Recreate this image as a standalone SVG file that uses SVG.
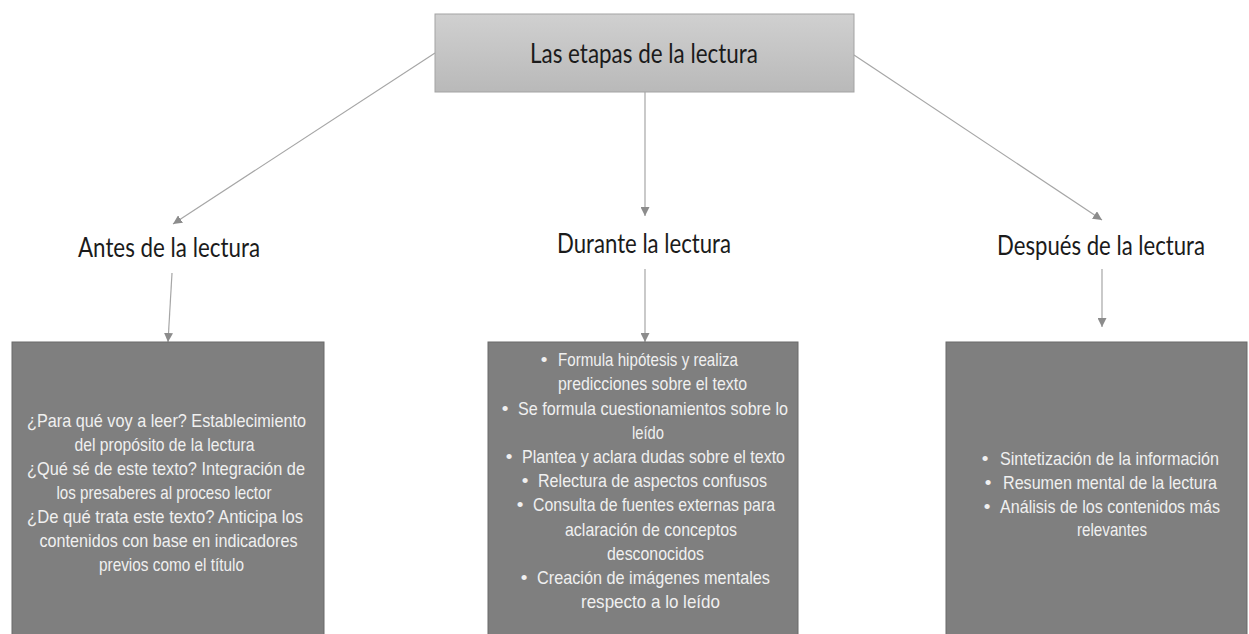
<svg xmlns="http://www.w3.org/2000/svg" width="1249" height="634" viewBox="0 0 1249 634">
<defs>
<linearGradient id="gTop" x1="0" y1="0" x2="0" y2="1">
<stop offset="0" stop-color="#d0d0d0"/>
<stop offset="1" stop-color="#b9b9b9"/>
</linearGradient>
<marker id="arr" viewBox="0 0 10 10" refX="10" refY="5" markerWidth="9" markerHeight="9" markerUnits="userSpaceOnUse" orient="auto">
<path d="M0,0 L10,5 L0,10 z" fill="#8c8c8c"/>
</marker>
<style>
.conn{stroke:#a6a6a6;stroke-width:1.2;fill:none;marker-end:url(#arr)}
.head{font-family:Lato,"Open Sans","Liberation Sans",sans-serif;font-size:26px;fill:#1b1b1b;text-anchor:middle}
.box{fill:#7f7f7f;stroke:#6b6b6b;stroke-width:1}
.bt{font-family:"Liberation Sans",Arial,sans-serif;font-size:19px;fill:#f0f0f0;text-anchor:middle}
</style>
</defs>
<rect width="1249" height="634" fill="#ffffff"/>
<g id="connectors">
<line class="conn" x1="435" y1="53" x2="173" y2="224"/>
<line class="conn" x1="645" y1="92" x2="645" y2="216"/>
<line class="conn" x1="854" y1="55" x2="1102" y2="220"/>
<line class="conn" x1="172" y1="273" x2="168" y2="342"/>
<line class="conn" x1="645" y1="269" x2="645" y2="342"/>
<line class="conn" x1="1102" y1="269" x2="1102" y2="327"/>
</g>
<g id="root">
<rect x="435" y="14" width="419" height="78" fill="url(#gTop)" stroke="#a3a3a3" stroke-width="1"/>
<text class="head" x="644" y="63" font-size="24" textLength="228" lengthAdjust="spacingAndGlyphs">Las etapas de la lectura</text>
</g>
<g id="antes-label">
<text class="head" x="169" y="257" font-size="25.5" textLength="182" lengthAdjust="spacingAndGlyphs">Antes de la lectura</text>
</g>
<g id="durante-label">
<text class="head" x="644" y="253" font-size="25.5" textLength="174" lengthAdjust="spacingAndGlyphs">Durante la lectura</text>
</g>
<g id="despues-label">
<text class="head" x="1101" y="255" font-size="25.5" textLength="208" lengthAdjust="spacingAndGlyphs">Después de la lectura</text>
</g>
<g id="antes-box">
<rect class="box" x="12" y="342" width="312" height="293"/>
<text class="bt" x="166.5" y="427" textLength="279" lengthAdjust="spacingAndGlyphs">¿Para qué voy a leer? Establecimiento</text>
<text class="bt" x="164.5" y="451" textLength="180" lengthAdjust="spacingAndGlyphs">del propósito de la lectura</text>
<text class="bt" x="166" y="475" textLength="278" lengthAdjust="spacingAndGlyphs">¿Qué sé de este texto? Integración de</text>
<text class="bt" x="164" y="499" textLength="215" lengthAdjust="spacingAndGlyphs">los presaberes al proceso lector</text>
<text class="bt" x="165" y="523" textLength="276" lengthAdjust="spacingAndGlyphs">¿De qué trata este texto? Anticipa los</text>
<text class="bt" x="168.5" y="547" textLength="258" lengthAdjust="spacingAndGlyphs">contenidos con base en indicadores</text>
<text class="bt" x="171.5" y="571" textLength="145" lengthAdjust="spacingAndGlyphs">previos como el título</text>
</g>
<g id="durante-box">
<rect class="box" x="488" y="342" width="310" height="293"/>
<text class="bt" x="544" y="366">•</text>
<text class="bt" x="648" y="366" textLength="180" lengthAdjust="spacingAndGlyphs">Formula hipótesis y realiza</text>
<text class="bt" x="652.5" y="390" textLength="189" lengthAdjust="spacingAndGlyphs">predicciones sobre el texto</text>
<text class="bt" x="505" y="414.5">•</text>
<text class="bt" x="653" y="414.5" textLength="270" lengthAdjust="spacingAndGlyphs">Se formula cuestionamientos sobre lo</text>
<text class="bt" x="648" y="438.5" textLength="32" lengthAdjust="spacingAndGlyphs">leído</text>
<text class="bt" x="509" y="463">•</text>
<text class="bt" x="653.5" y="463" textLength="263" lengthAdjust="spacingAndGlyphs">Plantea y aclara dudas sobre el texto</text>
<text class="bt" x="525" y="487">•</text>
<text class="bt" x="652.5" y="487" textLength="229" lengthAdjust="spacingAndGlyphs">Relectura de aspectos confusos</text>
<text class="bt" x="520" y="511">•</text>
<text class="bt" x="654" y="511" textLength="242" lengthAdjust="spacingAndGlyphs">Consulta de fuentes externas para</text>
<text class="bt" x="651" y="535.5" textLength="172" lengthAdjust="spacingAndGlyphs">aclaración de conceptos</text>
<text class="bt" x="655.5" y="559.5" textLength="97" lengthAdjust="spacingAndGlyphs">desconocidos</text>
<text class="bt" x="524" y="584">•</text>
<text class="bt" x="653.5" y="584" textLength="233" lengthAdjust="spacingAndGlyphs">Creación de imágenes mentales</text>
<text class="bt" x="650.5" y="608" textLength="139" lengthAdjust="spacingAndGlyphs">respecto a lo leído</text>
</g>
<g id="despues-box">
<rect class="box" x="946" y="342" width="301" height="293"/>
<text class="bt" x="985" y="465">•</text>
<text class="bt" x="1109.5" y="465" textLength="219" lengthAdjust="spacingAndGlyphs">Sintetización de la información</text>
<text class="bt" x="988" y="489">•</text>
<text class="bt" x="1110" y="489" textLength="214" lengthAdjust="spacingAndGlyphs">Resumen mental de la lectura</text>
<text class="bt" x="987" y="512.5">•</text>
<text class="bt" x="1110" y="512.5" textLength="220" lengthAdjust="spacingAndGlyphs">Análisis de los contenidos más</text>
<text class="bt" x="1112" y="536" textLength="70" lengthAdjust="spacingAndGlyphs">relevantes</text>
</g>
</svg>
